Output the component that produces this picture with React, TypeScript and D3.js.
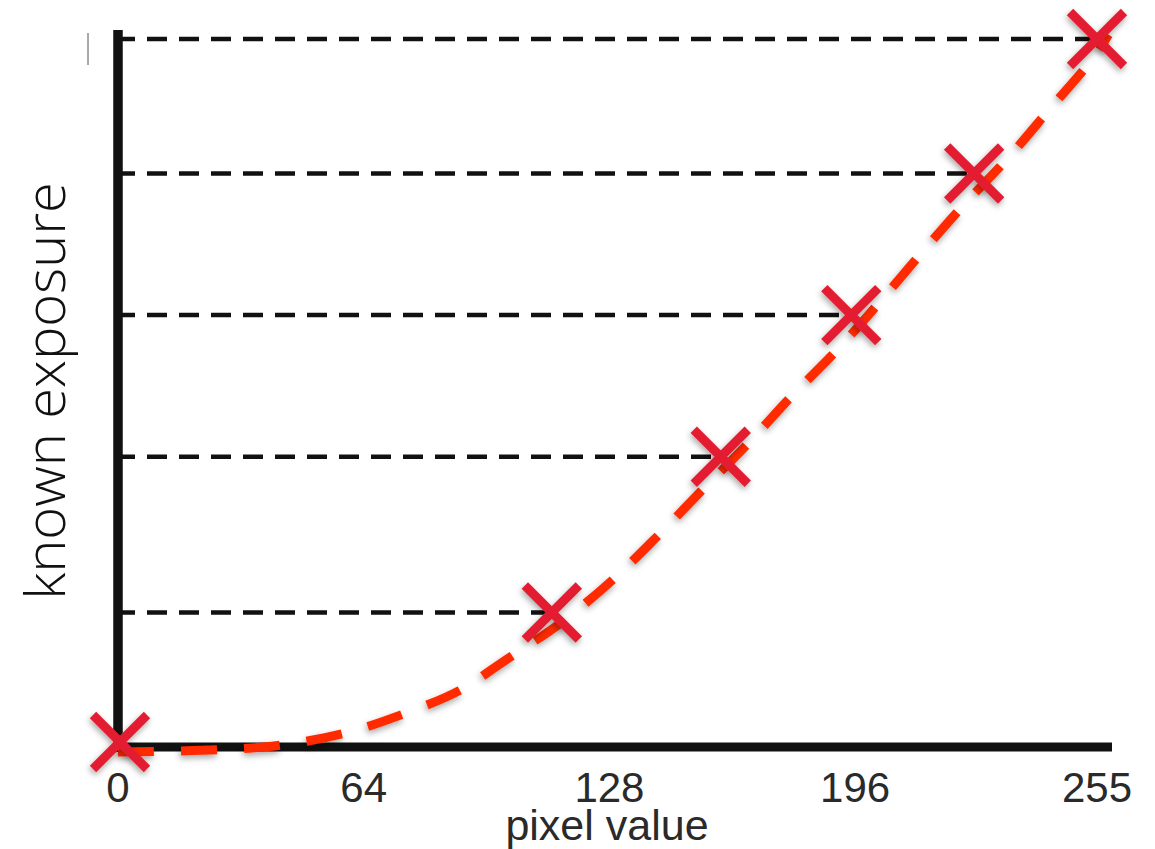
import React from "react";
import * as d3 from "d3";

// ---- data ----
const markerPixel = [0, 113, 157, 191, 223, 255];
const markerExposure = [0, 0.19, 0.41, 0.61, 0.81, 1.0];

const curvePixel = [0, 26, 43, 60, 75, 89, 101, 115, 128, 140, 152, 164, 175, 187, 198, 209, 220, 232, 243, 254, 258];
const curveExposure = [-0.007, -0.004, 0.003, 0.021, 0.048, 0.08, 0.123, 0.174, 0.232, 0.295, 0.362, 0.428, 0.493, 0.559, 0.626, 0.696, 0.764, 0.833, 0.903, 0.973, 1.006];

const tickValues = [0, 64, 128, 192, 255];
const tickLabels = ["0", "64", "128", "196", "255"];

const xLabel = "pixel value";
const yLabel = "known exposure";

export default function App() {
  const W = 1155;
  const H = 849;
  const x = d3.scaleLinear().domain([0, 255]).range([118, 1097]);
  const y = d3.scaleLinear().domain([0, 1]).range([747, 39]);

  const curveData = curvePixel.map((p, i) => [p, curveExposure[i]] as [number, number]);
  const line = d3
    .line<[number, number]>()
    .x((d) => x(d[0]))
    .y((d) => y(d[1]))
    .curve(d3.curveCatmullRom.alpha(0.5));

  const markers = markerPixel.map((p, i) => ({ p, e: markerExposure[i] }));
  const r = 27;
  const xPath = `M${-r},${-r}L${r},${r}M${-r},${r}L${r},${-r}`;

  const axisColor = "#111111";

  return (
    <svg
      width={W}
      height={H}
      style={{ position: "absolute", left: 0, top: 0, background: "#fff" }}
    >
      <defs>
        <filter id="shadow" x="-30%" y="-30%" width="160%" height="160%">
          <feDropShadow dx="-1" dy="3" stdDeviation="3" floodColor="#000" floodOpacity="0.35" />
        </filter>
      </defs>

      {/* small artifact line */}
      <line x1={88} x2={88} y1={33} y2={65} stroke="#555" strokeWidth={1} />

      {/* horizontal dashed guide lines */}
      {markers
        .filter((m) => m.e > 0)
        .map((m, i) => (
          <line
            key={"g" + i}
            x1={x(0) - 3}
            x2={x(m.p) + 2}
            y1={y(m.e)}
            y2={y(m.e)}
            stroke="#111"
            strokeWidth={4.5}
            strokeDasharray="20 12"
          />
        ))}

      {/* axes */}
      <line x1={x(0)} x2={x(0)} y1={30} y2={752} stroke={axisColor} strokeWidth={9.5} />
      <line x1={113} x2={1112} y1={y(0)} y2={y(0)} stroke={axisColor} strokeWidth={9} />

      {/* fitted curve */}
      <path
        d={line(curveData) || ""}
        fill="none"
        stroke="#ff2a00"
        strokeWidth={9}
        strokeDasharray="36 27"
        filter="url(#shadow)"
      />

      {/* markers */}
      {markers.map((m, i) => (
        <path
          key={"m" + i}
          d={xPath}
          transform={`translate(${x(m.p) + (i === 0 ? 2 : 0)},${y(m.e) - (i === 0 ? 5 : 0)})`}
          fill="none"
          stroke="#e41e30"
          strokeWidth={9}
          filter="url(#shadow)"
        />
      ))}

      {/* tick labels */}
      {tickValues.map((t, i) => (
        <text
          key={"t" + i}
          x={x(t)}
          y={802}
          textAnchor="middle"
          fontFamily="'Liberation Sans', Arial, sans-serif"
          fontSize={42}
          fill="#2a2a2a"
        >
          {tickLabels[i]}
        </text>
      ))}

      {/* axis titles */}
      <text
        x={607}
        y={840}
        textAnchor="middle"
        fontFamily="'Liberation Sans', Arial, sans-serif"
        fontSize={43}
        fill="#2a2a2a"
      >
        {xLabel}
      </text>
      <text
        transform="translate(65,391) rotate(-90)"
        textAnchor="middle"
        fontFamily="'Open Sans', sans-serif"
        fontSize={56}
        fill="#111"
        style={{ fontWeight: 300 }}
      >
        {yLabel}
      </text>
    </svg>
  );
}
